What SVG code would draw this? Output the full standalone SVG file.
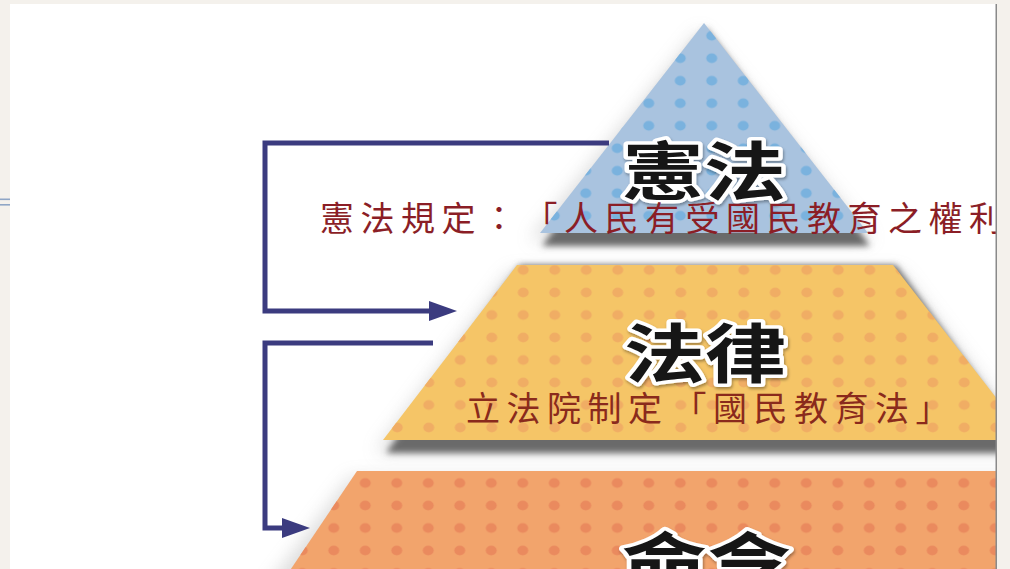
<svg xmlns="http://www.w3.org/2000/svg" width="1010" height="569" viewBox="0 0 1010 569">
  <defs>
    <style>
      .big { font-family: "Noto Sans CJK TC", "Noto Sans CJK SC", sans-serif; font-weight: 700; font-size: 64px; fill: #151515; stroke: #ffffff; stroke-width: 7px; stroke-linejoin: round; paint-order: stroke; }
      .sub { font-family: "Noto Sans CJK TC", "Noto Sans CJK SC", sans-serif; font-weight: 400; font-size: 34px; letter-spacing: 6.5px; }
      .conn { fill: none; stroke: #3b3b7f; stroke-width: 5; stroke-linejoin: miter; }
    </style>
    <pattern id="dotsBlue" patternUnits="userSpaceOnUse" x="3" y="2" width="31.5" height="22.5">
      <ellipse cx="15.75" cy="11.25" rx="5.5" ry="4.8" fill="#7ab2de"/>
    </pattern>
    <pattern id="dotsYellow" patternUnits="userSpaceOnUse" x="3.5" y="-11.25" width="31.5" height="22.5">
      <ellipse cx="15.75" cy="11.25" rx="5.5" ry="4.8" fill="#f0ad64"/>
    </pattern>
    <pattern id="dotsOrange" patternUnits="userSpaceOnUse" x="3" y="-0.75" width="31.5" height="22.5">
      <ellipse cx="15.75" cy="11.25" rx="5.5" ry="4.8" fill="#ea8a5e"/>
    </pattern>
    <filter id="shadow" x="-20%" y="-20%" width="140%" height="150%">
      <feGaussianBlur stdDeviation="3"/>
    </filter>
    <filter id="softShadow" x="-30%" y="-30%" width="160%" height="160%">
      <feGaussianBlur stdDeviation="9"/>
    </filter>
    <filter id="txtShadow" x="-20%" y="-20%" width="140%" height="140%">
      <feDropShadow dx="1" dy="2" stdDeviation="1.5" flood-color="#000" flood-opacity="0.35"/>
    </filter>
    <marker id="arrow" markerUnits="userSpaceOnUse" markerWidth="28" markerHeight="20" refX="18" refY="10" orient="auto">
      <path d="M0,0 L28,10 L0,20 Z" fill="#3b3b7f"/>
    </marker>
    <clipPath id="panel">
      <rect x="10" y="4" width="986" height="565"/>
    </clipPath>
  </defs>

  <!-- page background -->
  <rect x="0" y="0" width="1010" height="569" fill="#f4f1ec"/>
  <rect x="10" y="4" width="986" height="565" fill="#ffffff"/>
  <rect x="0" y="198.5" width="10" height="1.6" fill="#8fa6c6"/>
  <rect x="0" y="204" width="10" height="1.6" fill="#8fa6c6"/>

  <g clip-path="url(#panel)">
    <!-- bottom level: 命令 -->
    <g id="node-mingling">
      <polygon points="350,478 1100,478 1100,600 258,600" fill="#9a9a9a" opacity="0.35" filter="url(#softShadow)"/>
      <polygon points="357,471 1060,471 1060,600 270,600" fill="#f2a46c"/>
      <polygon points="357,471 1060,471 1060,600 270,600" fill="url(#dotsOrange)"/>
      <text class="big" x="622" y="586" textLength="170" lengthAdjust="spacingAndGlyphs" filter="url(#txtShadow)">命令</text>
    </g>

    <!-- middle level: 法律 -->
    <g id="node-falu">
      <polygon points="510,272 900,272 1036,452 376,452" fill="#9a9a9a" opacity="0.35" filter="url(#softShadow)"/>
      <polygon points="520,265 896,265 1032,453 386,453" fill="#6a6a6a" filter="url(#shadow)"/>
      <polygon points="517,265 893,265 1029,440 383,440" fill="#f5c567"/>
      <polygon points="517,265 893,265 1029,440 383,440" fill="url(#dotsYellow)"/>
      <text class="big" x="624" y="377" textLength="162" lengthAdjust="spacingAndGlyphs" filter="url(#txtShadow)">法律</text>
      <text class="sub" x="466" y="421" fill="#8a2a1c">立法院制定<tspan dx="4">「國民教育法」</tspan></text>
    </g>

    <!-- top level: 憲法 -->
    <g id="node-xianfa">
      <polygon points="700,30 872,240 530,240" fill="#9a9a9a" opacity="0.35" filter="url(#softShadow)"/>
      <polygon points="706,28 870,246 542,246" fill="#6a6a6a" filter="url(#shadow)"/>
      <polygon points="704,23 868,233 540,233" fill="#a9c3df"/>
      <polygon points="704,23 868,233 540,233" fill="url(#dotsBlue)"/>
      <text class="big" x="622" y="195" textLength="164" lengthAdjust="spacingAndGlyphs" filter="url(#txtShadow)">憲法</text>
      <text class="sub" x="320" y="231" fill="#8b1e26">憲法規定：<tspan dx="18">「人民有受國民教育之權利</tspan></text>
    </g>

    <!-- connectors -->
    <g id="connectors">
      <path class="conn" d="M609,143 H265 V311 H447" marker-end="url(#arrow)"/>
      <path class="conn" d="M433,343 H265 V528 H300" marker-end="url(#arrow)"/>
    </g>
  </g>

  <!-- right border line -->
  <rect x="995.5" y="4" width="1.5" height="565" fill="#8a8a8a"/>
</svg>
